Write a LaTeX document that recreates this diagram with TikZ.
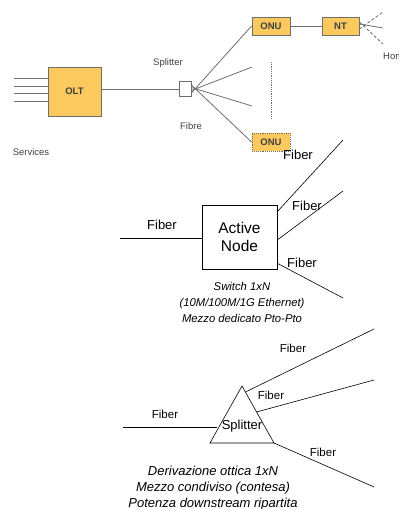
\documentclass[tikz,border=0pt]{standalone}
\usepackage{fontspec}
\setmainfont{Liberation Sans}
\usetikzlibrary{calc, positioning}

\definecolor{boxfill}{HTML}{FBC95E}
\definecolor{boxline}{HTML}{6E6E6E}
\definecolor{txtgray}{HTML}{404040}

\begin{document}
\begin{tikzpicture}[x=1pt,y=-1pt,
  equip/.style={draw=boxline, fill=boxfill, line width=0.9pt, text=txtgray,
    font=\fontsize{9.5}{11}\selectfont\bfseries, inner sep=0pt},
  gline/.style={draw=boxline, line width=0.8pt},
  glabel/.style={text=txtgray, font=\fontsize{9.5}{11}\selectfont, inner sep=0pt},
  fib/.style={draw=black, line width=0.6pt},
  flabel/.style={font=\fontsize{11.5}{13}\selectfont, inner sep=0pt},
  caption/.style={align=center, font=\fontsize{11.5}{16}\selectfont\itshape, inner sep=0pt}]
\clip (0,0) rectangle (399,509);

% --- PON access network ---
\node[equip, minimum width=53pt, minimum height=49pt] (olt) at (74.5,91.5) {OLT};
\node[draw=boxline, fill=white, line width=0.8pt, minimum width=12pt, minimum height=15pt, inner sep=0pt] (spl) at (185,89) {};
\node[equip, minimum width=38pt, minimum height=18pt] (onua) at (271,26) {ONU};
\node[equip, minimum width=37pt, minimum height=18pt] (nt) at (340.5,26) {NT};
\node[equip, densely dotted, minimum width=38pt, minimum height=18pt] (onub) at (271,142) {ONU};

\coordinate (s1) at (14,78);
\coordinate (s2) at (14,86);
\coordinate (s3) at (14,93);
\coordinate (s4) at (14,101);
\foreach \s in {s1,s2,s3,s4}
  \draw[gline] (\s) -- (\s -| olt.west);

\coordinate (fb) at (252,67);
\coordinate (fc) at (252,106);
\coordinate (h1) at (383,12);
\coordinate (h2) at (383,28);
\coordinate (h3) at (383,44);

\draw[gline] (olt.east |- spl) -- (spl.west);
\draw[gline] ([yshift=-4pt]spl.east) -- (onua.west);
\draw[gline] ([yshift=-1.5pt]spl.east) -- (fb);
\draw[gline] ([yshift=1.5pt]spl.east) -- (fc);
\draw[gline] ([yshift=4pt]spl.east) -- (onub.west);
\draw[gline, densely dotted] (271,62) -- (271,118);
\draw[gline] (onua.east) -- (onua.east -| nt.west);
\draw[gline, densely dashed] ([yshift=-3pt]nt.east) -- (h1);
\draw[gline] ([yshift=2pt]nt.east) -- (h2);
\draw[gline, densely dashed] ([yshift=4pt]nt.east) -- (h3);

\node[glabel] (lsplit) at (168,63) {Splitter};
\node[glabel] (lfibre) at (191,126) {Fibre};
\node[glabel] (lserv) at (31,152) {Services};
\node[glabel, anchor=west] (lhome) at (383,56) {Home};

% --- active node ---
\node[draw, line width=0.6pt, minimum width=75pt, minimum height=64pt, align=center,
  font=\fontsize{15.5}{18}\selectfont] (an) at (239.5,237) {Active\\Node};
\coordinate (ain) at (120,238);
\coordinate (a1) at (343,140);
\coordinate (a2) at (343,191);
\coordinate (a3) at (343,298);
\draw[fib] (ain) -- (ain -| an.west);
\draw[fib] ([yshift=-7pt]an.north east) -- (a1);
\draw[fib] ([yshift=-3pt]an.east) -- (a2);
\draw[fib] ([yshift=6pt]an.south east) -- (a3);

\node[flabel, font=\fontsize{13}{15}\selectfont] (fa0) at (162,225) {Fiber};
\node[flabel, font=\fontsize{13}{15}\selectfont] (fa1) at (298,155) {Fiber};
\node[flabel, font=\fontsize{13}{15}\selectfont] (fa2) at (307,206) {Fiber};
\node[flabel, font=\fontsize{13}{15}\selectfont] (fa3) at (302,263) {Fiber};
\node[caption, font=\fontsize{11.3}{16}\selectfont\itshape] (capa) at (242,302.5)
  {Switch 1xN\\(10M/100M/1G Ethernet)\\Mezzo dedicato Pto-Pto};

% --- passive splitter ---
\coordinate (tt) at (242,386);
\coordinate (tl) at (210,443);
\coordinate (tr) at (274,443);
\draw[fib] (tt) -- (tl) -- (tr) -- cycle;
\node[flabel, font=\fontsize{13}{15}\selectfont] (psp) at (242,426) {Splitter};

\coordinate (pin) at (123,427);
\coordinate (pe) at (217,427);
\coordinate (pa) at (245.5,392);
\coordinate (pb) at (256.5,412);
\coordinate (p1) at (374,329);
\coordinate (p2) at (374,380);
\coordinate (p3) at (374,487);
\draw[fib] (pin) -- (pe);
\draw[fib] (pa) -- (p1);
\draw[fib] (pb) -- (p2);
\draw[fib] (tr) -- (p3);

\node[flabel] (fp0) at (165,414) {Fiber};
\node[flabel] (fp1) at (293,348) {Fiber};
\node[flabel] (fp2) at (271,395) {Fiber};
\node[flabel] (fp3) at (323,452) {Fiber};
\node[caption, font=\fontsize{13}{16}\selectfont\itshape] (capp) at (213,488)
  {Derivazione ottica 1xN\\Mezzo condiviso (contesa)\\Potenza downstream ripartita};
\end{tikzpicture}
\end{document}
